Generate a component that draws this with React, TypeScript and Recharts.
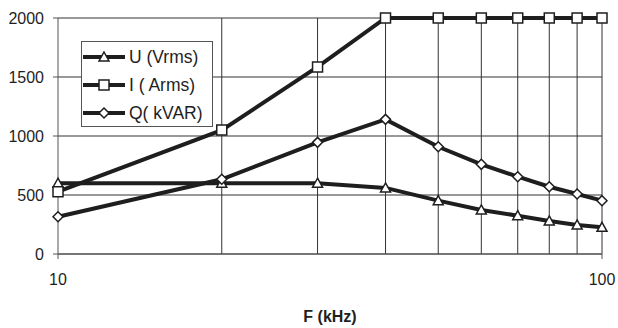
import { LineChart, Line, XAxis, YAxis, CartesianGrid, ReferenceLine, Label } from 'recharts';

const freq = [10, 20, 30, 40, 50, 60, 70, 80, 90, 100];
const voltage = [600, 600, 600, 560, 452, 373, 325, 280, 246, 226];
const current = [528, 1050, 1585, 2000, 2000, 2000, 2000, 2000, 2000, 2000];
const reactive = [316, 633, 946, 1141, 909, 760, 655, 570, 508, 452];

const yTicks = [0, 500, 1000, 1500, 2000];
const xTicks = [10, 100];
const gridFreqs = [20, 30, 40, 50, 60, 70, 80, 90, 100];

const rows = freq.map((f, i) => ({ f, u: voltage[i], i: current[i], q: reactive[i] }));

const INK = '#1e1e1e';
const FONT = '"Liberation Sans", Arial, sans-serif';

const markerPath = (kind: string, cx: number, cy: number) => {
  if (kind === 'tri') return `M${cx},${cy - 5}L${cx + 5},${cy + 4}L${cx - 5},${cy + 4}Z`;
  if (kind === 'sq') return `M${cx - 5},${cy - 5}h10v10h-10Z`;
  return `M${cx},${cy - 5}L${cx + 5},${cy}L${cx},${cy + 5}L${cx - 5},${cy}Z`;
};

const makeDot = (kind: string) => (props: any) => {
  const { cx, cy, index } = props;
  if (cx == null || cy == null) return <g key={index} />;
  return <path key={`${kind}-${index}`} d={markerPath(kind, cx, cy)} fill="#fff" stroke={INK} strokeWidth={1.5} />;
};

const legendItems = [
  { kind: 'tri', label: 'U (Vrms)' },
  { kind: 'sq', label: 'I ( Arms)' },
  { kind: 'diamond', label: 'Q( kVAR)' },
];

const ChartLegend = () => (
  <div
    style={{
      position: 'absolute',
      left: 81,
      top: 41,
      width: 130,
      height: 84,
      border: '1px solid #555',
      background: '#fff',
      fontFamily: FONT,
      fontSize: 17.5,
      color: INK,
    }}
  >
    {legendItems.map((it, k) => (
      <div key={it.label} style={{ position: 'absolute', left: 0, top: 3 + k * 28, height: 24, display: 'flex', alignItems: 'center' }}>
        <svg width={46} height={24}>
          <line x1={1} y1={12} x2={43} y2={12} stroke={INK} strokeWidth={4} />
          <path d={markerPath(it.kind, 22, 12)} fill="#fff" stroke={INK} strokeWidth={1.5} />
        </svg>
        <span style={{ marginLeft: 1, whiteSpace: 'pre' }}>{it.label}</span>
      </div>
    ))}
  </div>
);

export default function App() {
  return (
    <div style={{ position: 'absolute', left: 0, top: 0, width: 618, height: 328, background: '#fff' }}>
      <LineChart width={618} height={328} data={rows} margin={{ top: 18, right: 16, left: 0, bottom: 0 }}>
        <CartesianGrid vertical={false} stroke="#333" strokeWidth={1} />
        {gridFreqs.map((g) => (
          <ReferenceLine key={g} x={g} stroke="#333" strokeWidth={1} />
        ))}
        <XAxis
          dataKey="f"
          type="number"
          scale="log"
          domain={[10, 100]}
          ticks={xTicks}
          height={74}
          stroke="#555"
          tickSize={5}
          tickMargin={15}
          tick={{ fill: INK, fontSize: 16, fontFamily: FONT }}
        >
          <Label
            value="F (kHz)"
            position="insideBottom"
            offset={6}
            style={{ fill: INK, fontSize: 16, fontWeight: 'bold', fontFamily: FONT }}
          />
        </XAxis>
        <YAxis
          type="number"
          domain={[0, 2000]}
          ticks={yTicks}
          width={58}
          stroke="#555"
          tickSize={5}
          tickMargin={9}
          tick={{ fill: INK, fontSize: 16, fontFamily: FONT }}
        />
        <Line dataKey="u" stroke={INK} strokeWidth={4} dot={makeDot('tri')} isAnimationActive={false} />
        <Line dataKey="i" stroke={INK} strokeWidth={4} dot={makeDot('sq')} isAnimationActive={false} />
        <Line dataKey="q" stroke={INK} strokeWidth={4} dot={makeDot('diamond')} isAnimationActive={false} />
      </LineChart>
      <ChartLegend />
    </div>
  );
}
